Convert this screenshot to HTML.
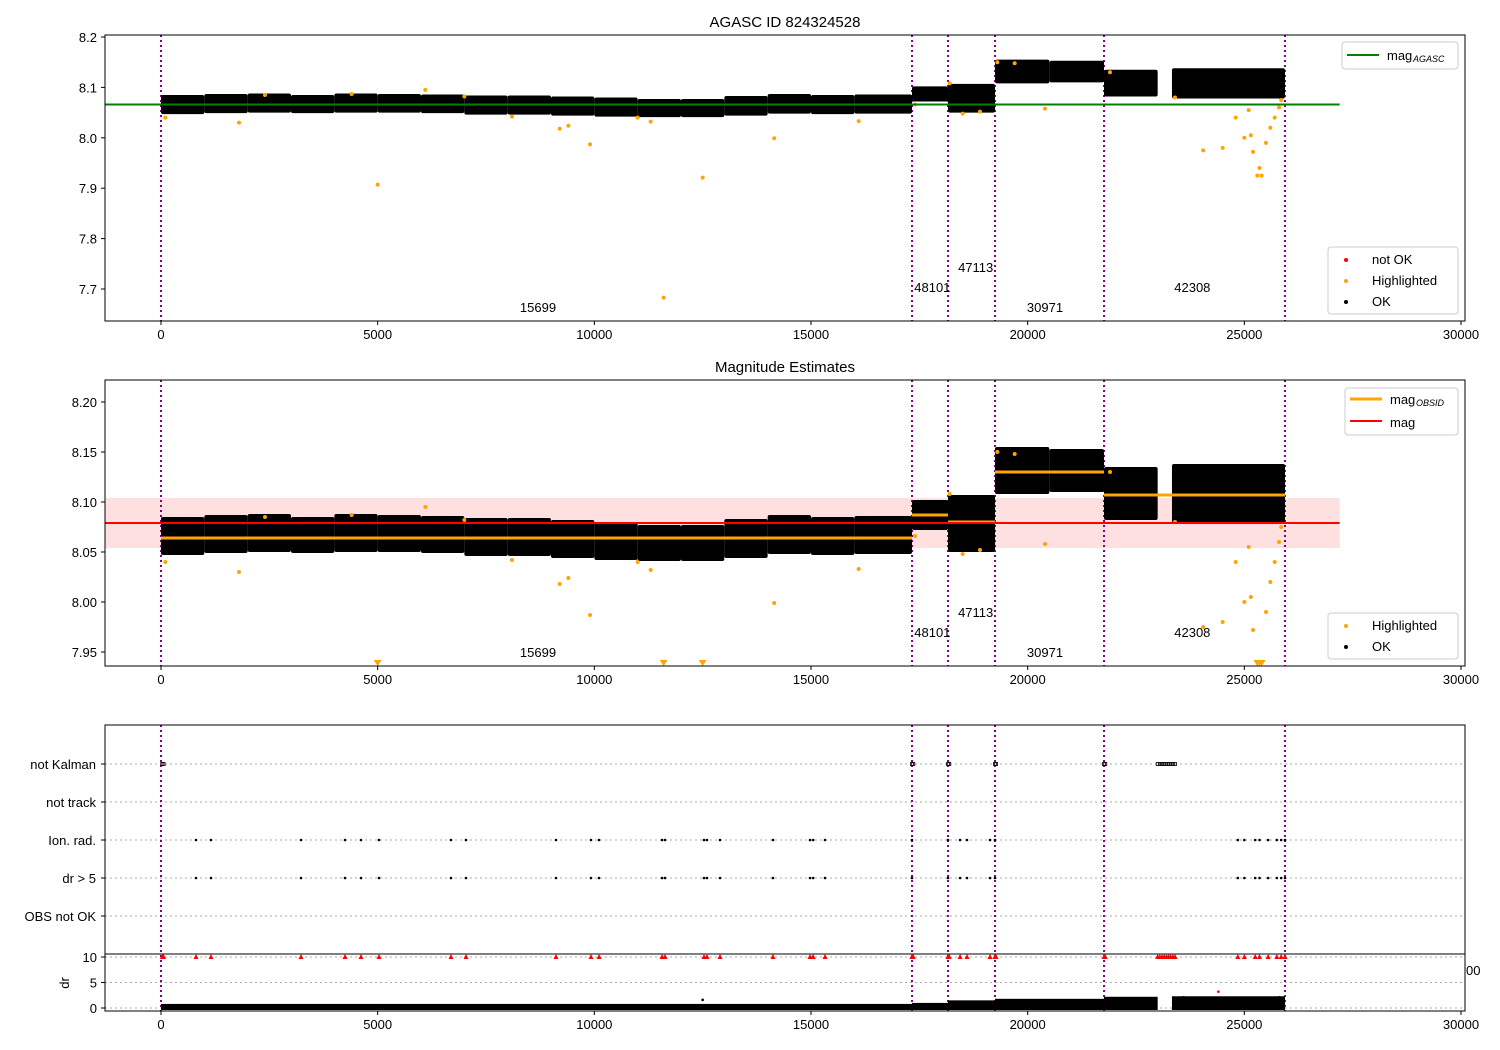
<!DOCTYPE html>
<html><head><meta charset="utf-8"><style>
body{margin:0;background:#fff}
svg{font-family:"Liberation Sans","DejaVu Sans",sans-serif;display:block}
</style></head><body>
<svg id="c" width="1500" height="1050" viewBox="0 0 1500 1050" xmlns="http://www.w3.org/2000/svg">
<defs>
<clipPath id="cp1"><rect x="105" y="35" width="1360" height="286"/></clipPath>
<clipPath id="cp2"><rect x="105" y="380" width="1360" height="286"/></clipPath>
<clipPath id="cp3"><rect x="105" y="954" width="1360" height="58"/></clipPath>
</defs>
<rect width="1500" height="1050" fill="#fff"/>
<text x="785" y="27" font-size="15" text-anchor="middle">AGASC ID 824324528</text>
<text x="785" y="372" font-size="15" text-anchor="middle">Magnitude Estimates</text>
<g id="g1"></g>
<g id="g2"></g>
<g id="g3"></g>
</svg>
<script>
const NS="http://www.w3.org/2000/svg";
// ---- data ----
const obsStarts=[0,17331,18162,19246,21762,25938];
const obsLabels=["15699","48101","47113","30971","42308"];
const obsLabelX=[8700,17800,18800,20400,23800];
const obsLabelLevel=[0,1,2,0,1];
const binStart=[0,1000,2000,3000,4000,5000,6000,7000,8000,9000,10000,11000,12000,13000,14000,15000,16000,17331,18162,19246,20500,21762,23330];
const binEnd=[1000,2000,3000,4000,5000,6000,7000,8000,9000,10000,11000,12000,13000,14000,15000,16000,17331,18162,19246,20500,21762,23000,25938];
const binLo=[8.047,8.049,8.050,8.049,8.050,8.050,8.049,8.046,8.046,8.044,8.042,8.041,8.041,8.044,8.048,8.047,8.048,8.072,8.050,8.108,8.110,8.082,8.078];
const binHi=[8.085,8.087,8.088,8.085,8.088,8.087,8.086,8.084,8.084,8.082,8.080,8.077,8.077,8.083,8.087,8.085,8.086,8.102,8.107,8.155,8.153,8.135,8.138];
const hiX=[100,1800,2400,4400,5000,6100,7000,8100,9200,9400,9900,11000,11300,11600,12500,14150,16100,17400,18200,18500,18900,20400,23400,24050,24500,24800,25000,25100,25150,25200,25300,25350,25400,25500,25600,25700,25800,25850,21900,19300,19700];
const hiY=[8.040,8.030,8.085,8.087,7.907,8.095,8.082,8.042,8.018,8.024,7.987,8.040,8.032,7.683,7.921,7.999,8.033,8.066,8.108,8.048,8.052,8.058,8.080,7.975,7.980,8.040,8.000,8.055,8.005,7.972,7.925,7.940,7.925,7.990,8.020,8.040,8.060,8.075,8.130,8.150,8.148];
const magAgasc=8.066, magAll=8.079, magLo=8.054, magHi=8.104;
const obsMag=[8.064,8.087,8.080,8.130,8.107];
const ionX=[808,1154,3231,4246,4615,5031,6692,7038,9115,9923,10108,11562,11631,12531,12600,12900,14123,14977,15050,15323,17331,18162,18440,18600,19130,19246,24850,25000,25250,25350,25550,25750,25850,25938];
const kalX=[30,60,17331,17360,18162,18190,19246,19270,21762,21790,23000,23050,23100,23150,23200,23250,23300,23350,23400];
const drStart=[0,17331,18162,19246,21762,23330];
const drEnd=[17331,18162,19246,21762,23000,25938];
const drHi=[0.8,1.0,1.5,1.8,2.2,2.3];
const drOutX=[12500,23600,24000,24400,24900,25100,25400,25500,25800];
const drOutY=[1.6,2.1,1.6,3.2,1.6,2.0,2.0,1.6,2.1];
const xTicks=[0,5000,10000,15000,20000,25000,30000];
const y1Ticks=[7.7,7.8,7.9,8.0,8.1,8.2];
const y2Ticks=[7.95,8.00,8.05,8.10,8.15,8.20];
const flagCats=["not Kalman","not track","Ion. rad.","dr > 5","OBS not OK"];
const drTicks=[0,5,10];
// ---- scales ----
const X=v=>161+v*1300/30000;
const Y1=v=>37+(8.2-v)*504;
const Y2=v=>402+(8.2-v)*1000;
const CATY=i=>764+i*38;
const YD=v=>1008-v*5.1;
function el(p,t,a){const e=document.createElementNS(NS,t);for(const k in a)e.setAttribute(k,a[k]);p.appendChild(e);return e;}
function txt(p,x,y,s,a){const e=el(p,"text",Object.assign({x:x,y:y,"font-size":13},a||{}));e.textContent=s;return e;}
function frame(g,top,h){const r=el(g,"rect",{x:105,y:top,width:1360,height:h,fill:"none",stroke:"#000","stroke-width":1});

}
function xaxis(g,yb){xTicks.forEach(t=>{el(g,"line",{x1:X(t),x2:X(t),y1:yb,y2:yb+4,stroke:"#000"});const e=txt(g,X(t),yb+18,String(t),{"text-anchor":"middle"});

});}
function vlines(g,top,bot){obsStarts.forEach(s=>{const l=el(g,"line",{x1:X(s),x2:X(s),y1:top,y2:bot,stroke:"#800080","stroke-width":2,"stroke-dasharray":"2,3"});

});}
function obsText(g,base){obsLabels.forEach((s,i)=>{const e=txt(g,X(obsLabelX[i]),base-obsLabelLevel[i]*20,s,{"text-anchor":"middle"});

});}
function bands(g,Y,cp){const gg=el(g,"g",{"clip-path":cp});binStart.forEach((s,i)=>{const r=el(gg,"rect",{x:X(s),y:Y(binHi[i]),width:X(binEnd[i])-X(s),height:Y(binLo[i])-Y(binHi[i]),fill:"#000",rx:2});

});return gg;}
function legendBox(g,x,y,w,h){el(g,"rect",{x:x,y:y,width:w,height:h,fill:"#fff",stroke:"#ccc",rx:3});}
// ---- panel 1 ----
const g1=document.getElementById("g1");
y1Ticks.forEach(t=>{el(g1,"line",{x1:101,x2:105,y1:Y1(t),y2:Y1(t),stroke:"#000"});txt(g1,97,Y1(t)+5,t.toFixed(1),{"text-anchor":"end"});});
vlines(g1,35,321);
const b1=bands(g1,Y1,"url(#cp1)");
hiX.forEach((x,i)=>{const c=el(b1,"circle",{cx:X(x),cy:Y1(hiY[i]),r:2,fill:"orange"});

});
const ag=el(g1,"line",{x1:105,x2:X(27200),y1:Y1(magAgasc),y2:Y1(magAgasc),stroke:"green","stroke-width":2});


obsText(g1,312);
frame(g1,35,286);xaxis(g1,321);
legendBox(g1,1342,42,116,27);el(g1,"line",{x1:1347,x2:1379,y1:55,y2:55,stroke:"green","stroke-width":2});
txt(g1,1387,60,"mag");txt(g1,1413,62,"AGASC",{"font-size":9,"font-style":"italic"});
legendBox(g1,1328,247,130,67);
[["red","not OK",264],["orange","Highlighted",285],["#000","OK",306]].forEach(a=>{el(g1,"circle",{cx:1346,cy:a[2]-4,r:2,fill:a[0]});txt(g1,1372,a[2],a[1]);});
// ---- panel 2 ----
const g2=document.getElementById("g2");
y2Ticks.forEach(t=>{el(g2,"line",{x1:101,x2:105,y1:Y2(t),y2:Y2(t),stroke:"#000"});txt(g2,97,Y2(t)+5,t.toFixed(2),{"text-anchor":"end"});});
const pb=el(g2,"rect",{x:105,y:Y2(magHi),width:X(27200)-105,height:Y2(magLo)-Y2(magHi),fill:"#ff0000","fill-opacity":0.12});


vlines(g2,380,666);
const b2=bands(g2,Y2,"url(#cp2)");
hiX.forEach((x,i)=>{if(Y2(hiY[i])>660){const t=el(g2,"path",{d:`M${X(x)-4},660 L${X(x)+4},660 L${X(x)},666 Z`,fill:"orange"});

}else{const c=el(b2,"circle",{cx:X(x),cy:Y2(hiY[i]),r:2,fill:"orange"});

}});
obsMag.forEach((m,i)=>{const s=obsStarts[i],e=obsStarts[i+1];const l=el(g2,"line",{x1:X(s),x2:X(e),y1:Y2(m),y2:Y2(m),stroke:"orange","stroke-width":3});

});
const ml=el(g2,"line",{x1:105,x2:X(27200),y1:Y2(magAll),y2:Y2(magAll),stroke:"red","stroke-width":2});


obsText(g2,657);
frame(g2,380,286);xaxis(g2,666);
legendBox(g2,1345,388,113,47);
el(g2,"line",{x1:1350,x2:1382,y1:399,y2:399,stroke:"orange","stroke-width":3});txt(g2,1390,404,"mag");txt(g2,1416,406,"OBSID",{"font-size":9,"font-style":"italic"});
el(g2,"line",{x1:1350,x2:1382,y1:421,y2:421,stroke:"red","stroke-width":2});txt(g2,1390,427,"mag");
legendBox(g2,1328,613,130,46);
[["orange","Highlighted",630],["#000","OK",651]].forEach(a=>{el(g2,"circle",{cx:1346,cy:a[2]-4,r:2,fill:a[0]});txt(g2,1372,a[2],a[1]);});
// ---- panel 3 ----
const g3=document.getElementById("g3");
flagCats.forEach((c,i)=>{el(g3,"line",{x1:105,x2:1465,y1:CATY(i),y2:CATY(i),stroke:"#aaa","stroke-dasharray":"2,3"});
const t=txt(g3,96,CATY(i)+5,c,{"text-anchor":"end"});


el(g3,"line",{x1:101,x2:105,y1:CATY(i),y2:CATY(i),stroke:"#000"});});
drTicks.forEach(t=>{el(g3,"line",{x1:105,x2:1465,y1:YD(t),y2:YD(t),stroke:"#aaa","stroke-dasharray":"2,3"});el(g3,"line",{x1:101,x2:105,y1:YD(t),y2:YD(t),stroke:"#000"});txt(g3,97,YD(t)+5,String(t),{"text-anchor":"end"});});
vlines(g3,725,1011);
kalX.forEach(x=>{const r=el(g3,"rect",{x:X(x)-1.5,y:CATY(0)-1.5,width:3,height:3,fill:"none",stroke:"#000","stroke-width":0.8});

});
ionX.forEach(x=>{[2,3].forEach(c=>{const p=el(g3,"circle",{cx:X(x),cy:CATY(c),r:1.3,fill:"#000"});

});
const t=el(g3,"path",{d:`M${X(x)-2.5},${YD(10)+2} L${X(x)+2.5},${YD(10)+2} L${X(x)},${YD(10)-3} Z`,fill:"red"});

});
kalX.forEach(x=>{const t=el(g3,"path",{d:`M${X(x)-2.5},${YD(10)+2} L${X(x)+2.5},${YD(10)+2} L${X(x)},${YD(10)-3} Z`,fill:"red"});

});
const cg=el(g3,"g",{"clip-path":"url(#cp3)"});
drStart.forEach((s,i)=>{const r=el(cg,"rect",{x:X(s),y:YD(drHi[i]),width:X(drEnd[i])-X(s),height:YD(0)-YD(drHi[i])+2,fill:"#000"});

});
drOutX.forEach((x,i)=>{const c=el(cg,"circle",{cx:X(x),cy:YD(drOutY[i]),r:1.3,fill:i==3?"red":"#000"});

});
el(g3,"rect",{x:105,y:725,width:1360,height:286,fill:"none",stroke:"#000"});
el(g3,"line",{x1:105,x2:1465,y1:954,y2:954,stroke:"#000"});
txt(g3,1466,975,"00",{"font-size":13});
const dl=txt(g3,0,0,"dr",{"text-anchor":"middle",transform:"translate(69,983) rotate(-90)"});


xaxis(g3,1011);
</script>
</body></html>
